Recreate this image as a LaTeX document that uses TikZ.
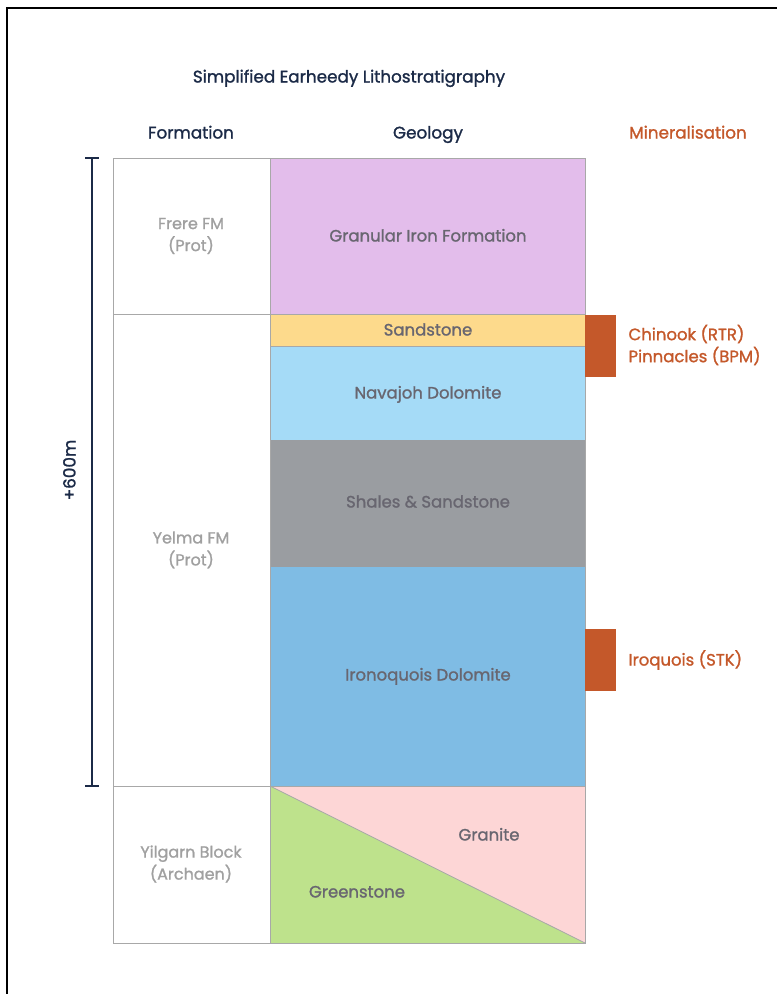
\documentclass[tikz,border=0pt]{standalone}
\usepackage{fontspec}
\setmainfont{Poppins}[BoldFont=Poppins, BoldFeatures={FakeBold=1.3}]
\usetikzlibrary{positioning}
\definecolor{navy}{HTML}{1B2A47}
\definecolor{gridc}{HTML}{A8A8A8}
\definecolor{fmtxt}{HTML}{A0A0A0}
\definecolor{geotxt}{HTML}{686670}
\definecolor{orng}{HTML}{C4582A}
\definecolor{cgif}{HTML}{E3BDEB}
\definecolor{csand}{HTML}{FDDA8C}
\definecolor{cnav}{HTML}{A5DBF7}
\definecolor{cshale}{HTML}{9A9DA1}
\definecolor{ciron}{HTML}{7FBCE4}
\definecolor{cgran}{HTML}{FDD6D6}
\definecolor{cgreen}{HTML}{BEE28C}
\tikzset{
  cell/.style={draw=gridc, line width=0.8pt},
  onel/.style={text height=12.5pt, text depth=1.5pt},
  hdr/.style={onel, text=navy, font=\fontsize{16.8}{20}\selectfont\bfseries},
  fmlab/.style={text=fmtxt, font=\fontsize{16}{22}\selectfont\bfseries, align=center},
  geolab/.style={onel, text=geotxt, font=\fontsize{16.5}{20}\selectfont\bfseries},
  minlab/.style={text=orng, font=\fontsize{16.5}{22}\selectfont\bfseries, anchor=west, align=left},
  minbar/.style={fill=orng, draw=none},
  dim/.style={draw=navy, line width=1.6pt},
  frame/.style={draw=black, line width=2pt}
}
\begin{document}
\begin{tikzpicture}[x=1pt,y=-1pt]
\useasboundingbox (0,0) rectangle (777,994);
% frame (top and left only)
\draw[frame] (7,994) -- (7,8) -- (777,8);
% title and headers
\node[hdr] (title) at (349,77) {Simplified Earheedy Lithostratigraphy};
\node[hdr] (hform) at (191,133) {Formation};
\node[hdr] (hgeo) at (428,133) {Geology};
\node[hdr, text=orng] (hmin) at (688,133) {Mineralisation};
% geology column
\fill[cgif] (270,158) rectangle (585,314);
\fill[csand] (270,314) rectangle (585,346);
\fill[cnav] (270,346) rectangle (585,440);
\fill[cshale] (270,440) rectangle (585,567);
\fill[ciron] (270,567) rectangle (585,786);
\fill[cgran] (270,786) rectangle (585,943);
\fill[cgreen] (270,786) -- (585,943) -- (270,943) -- cycle;
\draw[cell] (270,786) -- (585,943);
\draw[cell] (270,314) -- (585,314);
\draw[cell] (270,346) -- (585,346);
\draw[cell] (270,786) -- (585,786);
% formation column
\draw[cell] (113,158) rectangle (585,943);
\draw[cell] (270,158) -- (270,943);
\draw[cell] (113,314) -- (270,314);
\draw[cell] (113,786) -- (270,786);
% labels
\node[fmlab] (frere) at (191,236) {Frere FM\\(Prot)};
\node[fmlab] (yelma) at (191,550) {Yelma FM\\(Prot)};
\node[fmlab] (yilg) at (191,864) {Yilgarn Block\\(Archaen)};
\node[geolab] (gif) at (428,236) {Granular Iron Formation};
\node[geolab] (sand) at (428,330) {Sandstone};
\node[geolab] (nav) at (428,393) {Navajoh Dolomite};
\node[geolab] (shale) at (428,502) {Shales \& Sandstone};
\node[geolab] (iron) at (428,675) {Ironoquois Dolomite};
\node[geolab] (gran) at (489,835) {Granite};
\node[geolab] (green) at (357,892) {Greenstone};
% mineralisation
\fill[minbar] (585,315) rectangle (616,377);
\fill[minbar] (585,629) rectangle (616,691);
\node[minlab] (chin) at (625,345) {Chinook (RTR)\\Pinnacles (BPM)};
\node[minlab] (iroq) at (625,660) {Iroquois (STK)};
% dimension bar
\coordinate (dtop) at (92,158);
\coordinate (dbot) at (92,786);
\draw[dim] (dtop) -- (dbot);
\draw[dim] ([xshift=-7pt]dtop) -- ([xshift=7pt]dtop);
\draw[dim] ([xshift=-7pt]dbot) -- ([xshift=7pt]dbot);
\node[hdr, rotate=90] (six) at (70,470) {+600m};
\end{tikzpicture}
\end{document}
